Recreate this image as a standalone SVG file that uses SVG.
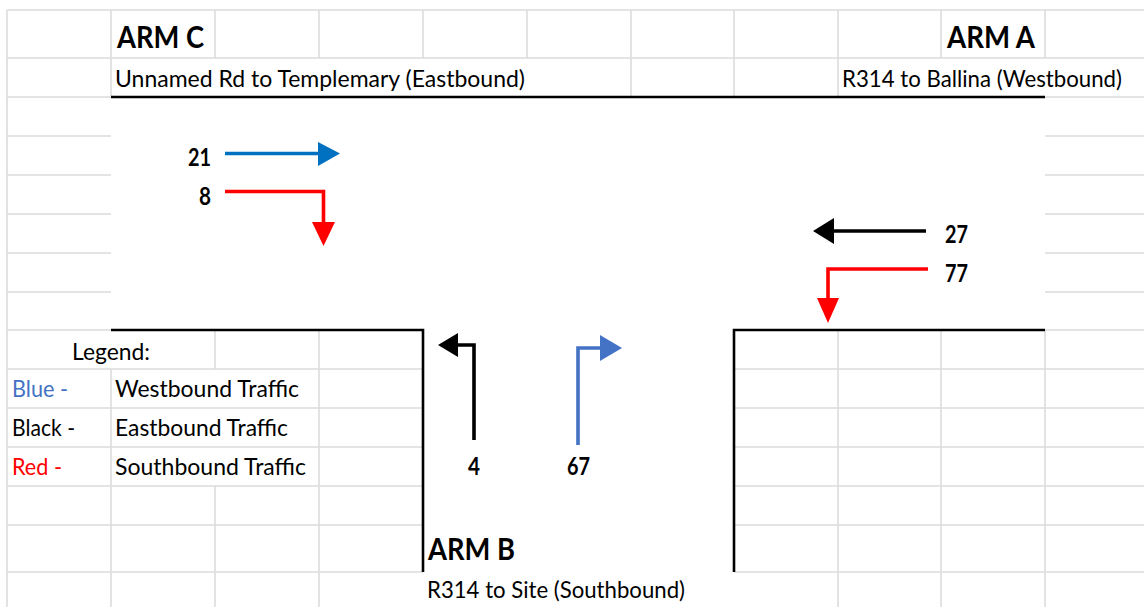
<svg xmlns="http://www.w3.org/2000/svg" width="1144" height="607" viewBox="0 0 1144 607">
<style>
.g{stroke:#dcdcdc;stroke-width:1.6;fill:none}
.k{stroke:#000;stroke-width:2.6;fill:none}
.t{font-family:Lato,"Liberation Sans",sans-serif;font-size:24px;fill:#000}
.b{font-family:Lato,"Liberation Sans",sans-serif;font-weight:bold;font-size:31px;fill:#000}
.n{font-family:Lato,"Liberation Sans",sans-serif;font-weight:bold;font-size:24px;fill:#000}
.ar{stroke-width:3.6;fill:none}
</style>
<rect width="1144" height="607" fill="#fff"/>
<g id="grid">
<path class="g" d="M7,10H1144M7,58H1144M7,97H111M1045,97H1144M7,136H111M1045,136H1144M7,175H111M1045,175H1144M7,214H111M1045,214H1144M7,253H111M1045,253H1144M7,292H111M1045,292H1144M7,330H111M1045,330H1144M7,369H423M734,369H1144M7,408H423M734,408H1144M7,447H423M734,447H1144M7,486H423M734,486H1144M7,525H423M734,525H1144M7,572H423M734,572H1144"/>
<path class="g" d="M7,10V607M111,10V97M111,369V607M215,10V58M215,330V369M215,486V607M319,10V58M319,330V607M423,10V58M527,10V58M631,10V97M734,10V97M838,10V97M838,330V607M941,10V58M941,330V607M1045,10V58M1045,330V607"/>
</g>
<g id="roads">
<path class="k" d="M111,97H1045"/>
<path class="k" d="M111,330H423V572"/>
<path class="k" d="M1045,330H734V572"/>
</g>
<g id="arm-c">
<text class="b" x="117" y="48" textLength="87" lengthAdjust="spacingAndGlyphs">ARM C</text>
<text class="t" x="115" y="87" textLength="410" lengthAdjust="spacingAndGlyphs">Unnamed Rd to Templemary (Eastbound)</text>
</g>
<g id="arm-a">
<text class="b" x="947" y="48" textLength="88" lengthAdjust="spacingAndGlyphs">ARM A</text>
<text class="t" x="842" y="87" textLength="280" lengthAdjust="spacingAndGlyphs">R314 to Ballina (Westbound)</text>
</g>
<g id="arm-b">
<text class="b" x="428" y="560" textLength="87" lengthAdjust="spacingAndGlyphs">ARM B</text>
<text class="t" x="427" y="598" textLength="258" lengthAdjust="spacingAndGlyphs">R314 to Site (Southbound)</text>
</g>
<g id="legend">
<text class="t" x="72" y="360" textLength="78" lengthAdjust="spacingAndGlyphs">Legend:</text>
<text class="t" x="12" y="397" textLength="56" lengthAdjust="spacingAndGlyphs" style="fill:#4472C4">Blue -</text>
<text class="t" x="115" y="397" textLength="184" lengthAdjust="spacingAndGlyphs">Westbound Traffic</text>
<text class="t" x="12" y="436" textLength="63" lengthAdjust="spacingAndGlyphs">Black -</text>
<text class="t" x="115" y="436" textLength="173" lengthAdjust="spacingAndGlyphs">Eastbound Traffic</text>
<text class="t" x="12" y="475" textLength="50" lengthAdjust="spacingAndGlyphs" style="fill:#FF0000">Red -</text>
<text class="t" x="115" y="475" textLength="191" lengthAdjust="spacingAndGlyphs">Southbound Traffic</text>
</g>
<g id="connectors">
<g id="c-21">
<path class="ar" stroke="#0070C0" d="M225,153.5H320"/>
<polygon fill="#0070C0" points="318,142 340,153.5 318,166"/>
</g>
<g id="c-8">
<path class="ar" stroke="#FF0000" d="M225,191.5H323.5V224"/>
<polygon fill="#FF0000" points="312,222 335,222 323.5,246"/>
</g>
<g id="c-27">
<path class="ar" stroke="#000" d="M926,231H832"/>
<polygon fill="#000" points="834,218 813,231 834,244"/>
</g>
<g id="c-77">
<path class="ar" stroke="#FF0000" d="M928,269H828V300"/>
<polygon fill="#FF0000" points="817,298 839,298 828,323"/>
</g>
<g id="c-4">
<path class="ar" stroke="#000" d="M474,440V345H456"/>
<polygon fill="#000" points="458,333 438,345 458,357"/>
</g>
<g id="c-67">
<path class="ar" stroke="#4472C4" d="M578,445V348H602"/>
<polygon fill="#4472C4" points="600,335 622,348 600,361"/>
</g>
</g>
<g id="counts">
<text class="n" x="188" y="166" textLength="23" lengthAdjust="spacingAndGlyphs">21</text>
<text class="n" x="199" y="205" textLength="12" lengthAdjust="spacingAndGlyphs">8</text>
<text class="n" x="945" y="243" textLength="23" lengthAdjust="spacingAndGlyphs">27</text>
<text class="n" x="945" y="282" textLength="23" lengthAdjust="spacingAndGlyphs">77</text>
<text class="n" x="468" y="475" textLength="12" lengthAdjust="spacingAndGlyphs">4</text>
<text class="n" x="567" y="475" textLength="23" lengthAdjust="spacingAndGlyphs">67</text>
</g>
</svg>
